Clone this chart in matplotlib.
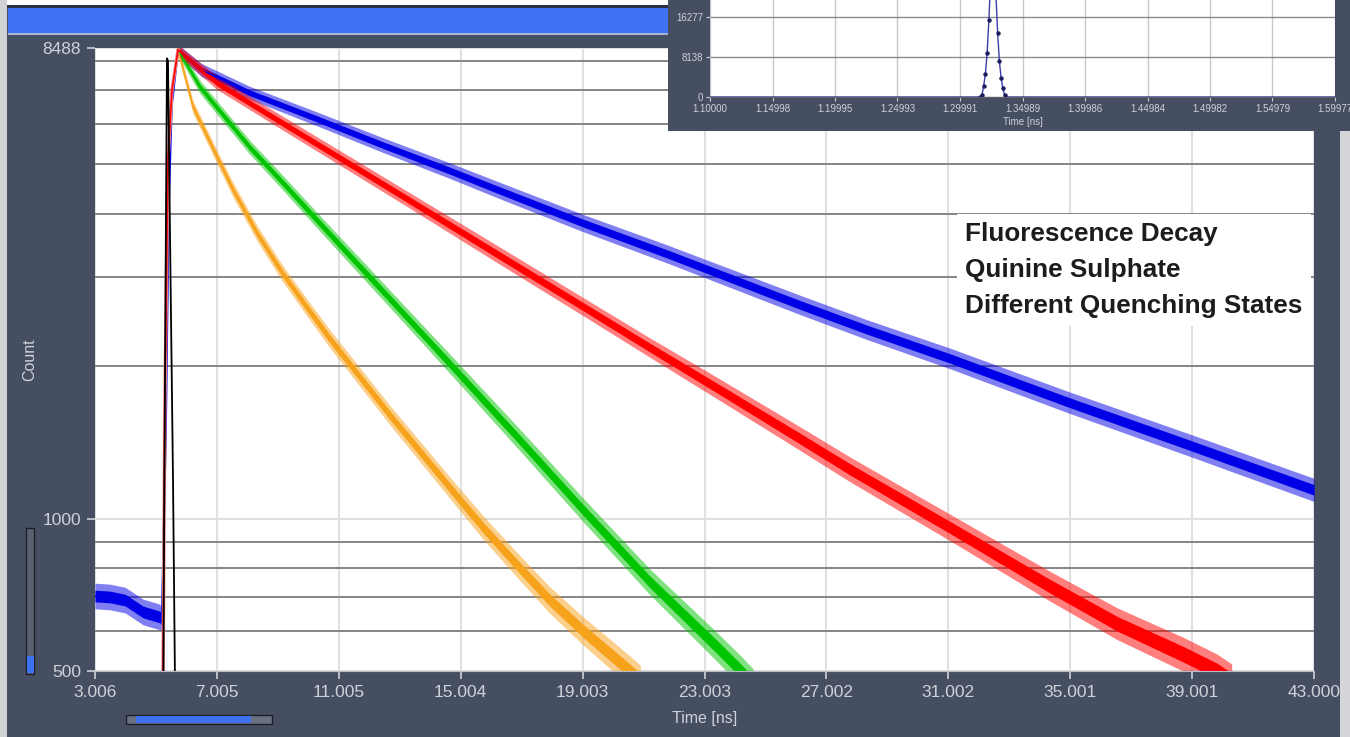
import matplotlib
matplotlib.use("Agg")
import matplotlib.pyplot as plt
from matplotlib.patches import Rectangle
from matplotlib.ticker import FixedLocator, NullFormatter

plt.rcParams['font.family'] = ['Liberation Sans', 'DejaVu Sans']

# ---- data ----
# decays: time [ns], counts, relative noise spread (outer edge of the noisy band)
blue_t = [5.73, 6.5, 8.09, 10.29, 12.45, 14.65, 16.29, 19.02, 21.77, 26.14, 28.33, 31.06, 34.90, 38.93, 43.0]
blue_counts = [8411, 7680, 6920, 6150, 5460, 4860, 4440, 3830, 3330, 2640, 2360, 2070, 1700, 1395, 1139]
blue_spread = [0.025, 0.03, 0.03, 0.032, 0.034, 0.036, 0.038, 0.04, 0.042, 0.045, 0.046, 0.048, 0.05, 0.052, 0.054]

blue_base_t = [3.006, 3.5, 4.0, 4.58, 5.14, 5.2]
blue_base_counts = [703, 700, 690, 654, 639, 630]
blue_base_spread = [0.06, 0.06, 0.06, 0.06, 0.06, 0.05]

red_t = [5.73, 7.01, 9.17, 11.37, 13.57, 16.19, 19.02, 21.21, 23.41, 26.04, 27.78, 31.06, 34.34, 36.54, 38.70, 39.82, 40.3]
red_counts = [8411, 7240, 6030, 5010, 4160, 3330, 2620, 2175, 1810, 1450, 1250, 960, 735, 620, 540, 500, 478]
red_spread = [0.025, 0.03, 0.032, 0.034, 0.036, 0.04, 0.042, 0.045, 0.05, 0.055, 0.058, 0.062, 0.07, 0.075, 0.08, 0.08, 0.08]

green_t = [5.73, 6.45, 8.09, 9.17, 10.29, 11.37, 12.45, 13.67, 14.65, 16.85, 19.02, 21.21, 23.41, 24.2, 24.6]
green_counts = [8411, 7109, 5400, 4600, 3880, 3300, 2810, 2340, 2020, 1450, 1040, 750, 558, 500, 472]
green_spread = [0.025, 0.03, 0.032, 0.034, 0.036, 0.038, 0.04, 0.042, 0.045, 0.05, 0.055, 0.06, 0.068, 0.07, 0.07]

orange_t = [5.73, 6.22, 7.01, 7.53, 8.32, 9.17, 10.06, 10.72, 12.68, 14.65, 15.74, 16.85, 17.93, 19.02, 20.13, 20.56, 20.9]
orange_counts = [8411, 6492, 5170, 4460, 3660, 3040, 2560, 2260, 1600, 1150, 960, 810, 690, 600, 526, 500, 480]
orange_spread = [0.025, 0.03, 0.032, 0.034, 0.036, 0.038, 0.04, 0.042, 0.045, 0.05, 0.055, 0.058, 0.062, 0.066, 0.07, 0.07, 0.07]

# rising edge shared by the decays, and the instrument response (black)
rise_t = [5.237, 5.30, 5.40, 5.53, 5.73]
rise_counts = [480, 1713, 5100, 7000, 8411]
blue_rise_t = [5.20, 5.33, 5.42, 5.52, 5.73]
blue_rise_counts = [630, 1500, 4000, 6500, 8411]
irf_main_t = [5.25, 5.27, 5.335, 5.368, 5.40, 5.47, 5.565, 5.63]
irf_main_counts = [480, 900, 4000, 8100, 8000, 3500, 1200, 480]

x_ticks = [3.006, 7.005, 11.005, 15.004, 19.003, 23.003, 27.002, 31.002, 35.001, 39.001, 43.000]
y_ticks = [500, 1000, 8488]
y_minor = [600, 700, 800, 900, 2000, 3000, 4000, 5000, 6000, 7000, 8000]

# inset: IRF peak
irf_t = [1.10000, 1.3145, 1.3160, 1.3174, 1.3188, 1.3202, 1.3216, 1.3230, 1.3244, 1.3258,
         1.3272, 1.3286, 1.3300, 1.3314, 1.3328, 1.3342, 1.3356, 1.3370, 1.59977]
irf_counts = [0, 0, 0, 330, 2200, 4650, 9000, 15600, 24000, 30000,
              28000, 21000, 13100, 7300, 3800, 1800, 330, 0, 0]
inset_x_ticks = [1.10000, 1.14998, 1.19995, 1.24993, 1.29991, 1.34989, 1.39986, 1.44984, 1.49982, 1.54979, 1.59977]
inset_y_ticks = [0, 8138, 16277]

BG = '#464e62'
LIGHT = '#cdd1d9'
BLUE_UI = '#3f72f2'

W, H = 1350, 737
fig = plt.figure(figsize=(W / 100, H / 100), dpi=100)
fig.patch.set_facecolor(BG)


def px_box(x0, y0, x1, y1):
    return [x0 / W, 1 - y1 / H, (x1 - x0) / W, (y1 - y0) / H]


def px_rect(x0, y0, x1, y1, **kw):
    l, b, w, h = px_box(x0, y0, x1, y1)
    fig.patches.append(Rectangle((l, b), w, h, transform=fig.transFigure, **kw))


# window chrome
px_rect(0, 0, W, 5, fc='white', ec='none')
px_rect(0, 5, W, 8, fc='#2c3040', ec='none')
px_rect(8, 8, W, 33, fc=BLUE_UI, ec='none')
px_rect(8, 33, W, 35, fc='#a9b4d0', ec='none')
px_rect(0, 0, 7, H, fc='#d0d2d6', ec='none')
px_rect(1340, 131, W, H, fc='#d4d6da', ec='none')

# sliders
px_rect(25.7, 527.7, 34.3, 674, fc='#596173', ec='#1e2028', lw=1)
px_rect(26.5, 655.5, 33.5, 673, fc=BLUE_UI, ec='none')
px_rect(125.7, 715, 271.7, 724, fc='#6a7182', ec='#1e2028', lw=1)
px_rect(136, 715.8, 251, 723.2, fc=BLUE_UI, ec='none')

# ---- main decay plot ----
ax = fig.add_axes(px_box(95, 48, 1314, 671))
ax.set_zorder(1)
ax.set_facecolor('white')
ax.set_yscale('log')


def band(t, counts, spread, color):
    # light outer fringe for the noise spikes, solid core
    for k, a in [(1.0, 0.5), (0.45, 1.0)]:
        lo = [c / (1 + k * s) for c, s in zip(counts, spread)]
        hi = [c * (1 + k * s) for c, s in zip(counts, spread)]
        ax.fill_between(t, lo, hi, color=color, alpha=a, lw=0)
    ax.plot(t, counts, color=color, lw=1)


band(blue_base_t, blue_base_counts, blue_base_spread, '#0000e6')
ax.plot(blue_rise_t, blue_rise_counts, color='#0000e6', lw=1.5)
band(blue_t, blue_counts, blue_spread, '#0000e6')
band(orange_t, orange_counts, orange_spread, '#f7a21b')
band(green_t, green_counts, green_spread, '#00c400')
ax.plot(rise_t, rise_counts, color='#e89090', lw=2.5)
ax.plot(rise_t, rise_counts, color='#ff0000', lw=1.2)
band(red_t, red_counts, red_spread, '#ff0000')
ax.plot(irf_main_t, irf_main_counts, color='black', lw=1.3)

ax.set_xlim(3.006, 43.0)
ax.set_ylim(500, 8488)
ax.set_xticks(x_ticks)
ax.set_xticklabels([f'{v:.3f}' for v in x_ticks])
ax.yaxis.set_major_locator(FixedLocator(y_ticks))
ax.set_yticklabels([str(v) for v in y_ticks])
ax.yaxis.set_minor_locator(FixedLocator(y_minor))
ax.yaxis.set_minor_formatter(NullFormatter())
ax.set_axisbelow(True)
ax.grid(True, which='major', color='#e0e0e0', lw=1.5)
ax.grid(True, which='minor', axis='y', color='#858585', lw=1.4)
ax.tick_params(which='major', colors=LIGHT, labelsize=12.5, length=6, width=1.2, pad=4)
ax.tick_params(which='minor', length=0)
for s in ['top', 'right', 'left']:
    ax.spines[s].set_visible(False)
ax.spines['bottom'].set_color('#b8bcc6')

fig.text(30 / W, 1 - 360 / H, 'Count', rotation=90, color=LIGHT, fontsize=11.5, ha='center', va='center')
fig.text(705 / W, 1 - 719 / H, 'Time [ns]', color=LIGHT, fontsize=11.5, ha='center', va='center')

fig.text(965 / W, 1 - 222 / H, 'Fluorescence Decay\nQuinine Sulphate\nDifferent Quenching States',
         fontsize=18.8, fontweight='bold', color='#1c1c1c', ha='left', va='top', linespacing=1.62,
         bbox=dict(facecolor='white', edgecolor='none', pad=6), zorder=2)

# ---- inset: instrument response ----
bg = fig.add_axes(px_box(668, 0, W, 131))
bg.set_zorder(3)
bg.set_facecolor(BG)
bg.set_xticks([])
bg.set_yticks([])
for s in bg.spines.values():
    s.set_visible(False)

ins = fig.add_axes(px_box(710, 0, 1335, 97))
ins.set_zorder(4)
ins.set_facecolor('white')
ins.plot(irf_t, irf_counts, color='#3c3ca8', lw=1, marker='o', ms=2.2,
         mfc='#1c1c60', mec='#1c1c60', markevery=list(range(2, len(irf_t) - 2)))
ins.set_xlim(1.1, 1.59977)
ins.set_ylim(0, 19736)
ins.set_xticks(inset_x_ticks)
ins.set_xticklabels([f'{v:.5f}' for v in inset_x_ticks])
ins.set_yticks(inset_y_ticks)
ins.set_yticklabels([str(v) for v in inset_y_ticks])
ins.set_axisbelow(True)
ins.grid(True, axis='x', color='#c8c8c8', lw=1)
ins.grid(True, axis='y', color='#8a8a8a', lw=1)
ins.tick_params(colors=LIGHT, labelsize=7, length=3, width=0.8, pad=2)
for s in ['top', 'right', 'left']:
    ins.spines[s].set_visible(False)
ins.spines['bottom'].set_color('#606060')
ins.set_xlabel('Time [ns]', color=LIGHT, fontsize=7, labelpad=2)

fig.savefig('out.png', dpi=100, facecolor=fig.get_facecolor())
